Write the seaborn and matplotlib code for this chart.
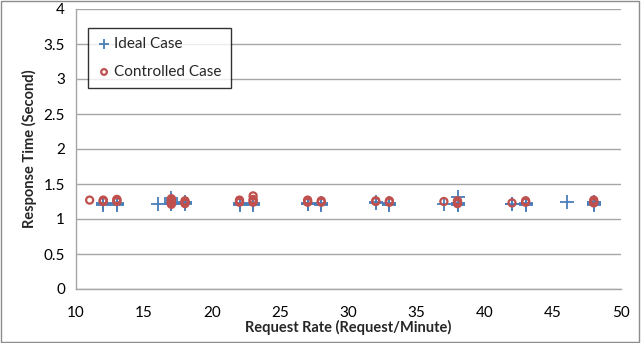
import matplotlib.pyplot as plt
import pandas as pd
import seaborn as sns

ideal_rate = [
    12, 12, 12, 12, 12,
    13, 13, 13, 13, 13,
    16,
    17, 17, 17, 17, 17, 17,
    18, 18, 18,
    22, 22, 22, 22, 22,
    23, 23, 23, 23, 23,
    27, 27, 27, 27,
    28, 28, 28, 28,
    32, 32,
    33, 33, 33, 33,
    37,
    38, 38, 38, 38, 38,
    42, 42,
    43, 43, 43, 43,
    46,
    48, 48, 48, 48, 48, 48,
]
ideal_time = [
    1.20, 1.21, 1.22, 1.23, 1.21,
    1.20, 1.21, 1.22, 1.23, 1.22,
    1.21,
    1.21, 1.22, 1.23, 1.25, 1.27, 1.30,
    1.22, 1.23, 1.24,
    1.20, 1.21, 1.22, 1.23, 1.22,
    1.20, 1.21, 1.22, 1.23, 1.21,
    1.21, 1.22, 1.23, 1.22,
    1.20, 1.21, 1.22, 1.23,
    1.23, 1.24,
    1.20, 1.21, 1.22, 1.23,
    1.21,
    1.20, 1.21, 1.22, 1.23, 1.32,
    1.21, 1.22,
    1.20, 1.21, 1.22, 1.23,
    1.24,
    1.20, 1.21, 1.22, 1.23, 1.24, 1.25,
]

controlled_rate = [
    11,
    12, 12, 12,
    13, 13, 13,
    17, 17, 17, 17, 17,
    18, 18, 18,
    22, 22, 22,
    23, 23, 23, 23,
    27, 27, 27,
    28, 28,
    32, 32,
    33, 33,
    37,
    38, 38, 38,
    42,
    43, 43,
    48, 48, 48,
]
controlled_time = [
    1.27,
    1.25, 1.26, 1.27,
    1.25, 1.27, 1.28,
    1.21, 1.23, 1.25, 1.27, 1.29,
    1.22, 1.24, 1.26,
    1.24, 1.25, 1.27,
    1.24, 1.26, 1.28, 1.33,
    1.24, 1.25, 1.27,
    1.24, 1.26,
    1.25, 1.26,
    1.24, 1.26,
    1.25,
    1.22, 1.24, 1.26,
    1.23,
    1.24, 1.26,
    1.23, 1.25, 1.27,
]

x_ticks = [10, 15, 20, 25, 30, 35, 40, 45, 50]
y_ticks = [0, 0.5, 1, 1.5, 2, 2.5, 3, 3.5, 4]
y_tick_labels = ["0", "0.5", "1", "1.5", "2", "2.5", "3", "3.5", "4"]

BLUE = "#4a7ebb"
RED = "#c0504d"
GRID = "#a6a6a6"


def main() -> None:
    sns.set_theme(style="white")
    plt.rcParams["font.family"] = ["Lato", "DejaVu Sans"]

    ideal = pd.DataFrame({"rate": ideal_rate, "time": ideal_time})
    controlled = pd.DataFrame({"rate": controlled_rate, "time": controlled_time})

    fig = plt.figure(figsize=(6.41, 3.43), dpi=100)
    ax = fig.add_axes([76 / 641, 1 - 289 / 343, (621 - 76) / 641, (289 - 9) / 343])

    sns.scatterplot(data=ideal, x="rate", y="time", marker="+", s=95, color=BLUE,
                    linewidth=1.3, label="Ideal Case", ax=ax, zorder=3)
    sns.scatterplot(data=controlled, x="rate", y="time", marker="o", s=26,
                    facecolors="none", edgecolor=RED, linewidth=1.6,
                    label="Controlled Case", ax=ax, zorder=4)

    ax.set_xlim(10, 50)
    ax.set_ylim(0, 4)
    ax.set_xticks(x_ticks)
    ax.set_yticks(y_ticks)
    ax.set_yticklabels(y_tick_labels)
    ax.yaxis.grid(True, color=GRID, linewidth=1.0)
    ax.set_axisbelow(True)

    for side in ["top", "right"]:
        ax.spines[side].set_visible(False)
    for side in ["left", "bottom"]:
        ax.spines[side].set_color(GRID)
        ax.spines[side].set_linewidth(1.0)
    ax.tick_params(axis="both", which="major", direction="out", length=5, width=1.0,
                   color=GRID, labelsize=11, labelcolor="black", pad=3)
    ax.tick_params(axis="x", pad=7)

    ax.set_xlabel("Request Rate (Request/Minute)", fontsize=10.5, fontweight="bold", labelpad=0)
    ax.set_ylabel("Response Time (Second)", fontsize=10.5, fontweight="bold", labelpad=5)

    legend = ax.legend(loc="upper left", bbox_to_anchor=(0.022, 0.932), borderaxespad=0,
                       frameon=True, fancybox=False, fontsize=11, handletextpad=0.2,
                       borderpad=0.6, labelspacing=0.9, handlelength=0.9, markerscale=0.8)
    legend.get_frame().set_edgecolor("black")
    legend.get_frame().set_linewidth(1.0)

    # grey frame round the whole chart
    fig.patches.append(plt.Rectangle((0.002, 0.003), 0.995, 0.993, transform=fig.transFigure,
                                     fill=False, edgecolor="#8c8c8c", linewidth=1.0))

    fig.savefig("out.png", dpi=100)
    plt.close(fig)


if __name__ == "__main__":
    main()
